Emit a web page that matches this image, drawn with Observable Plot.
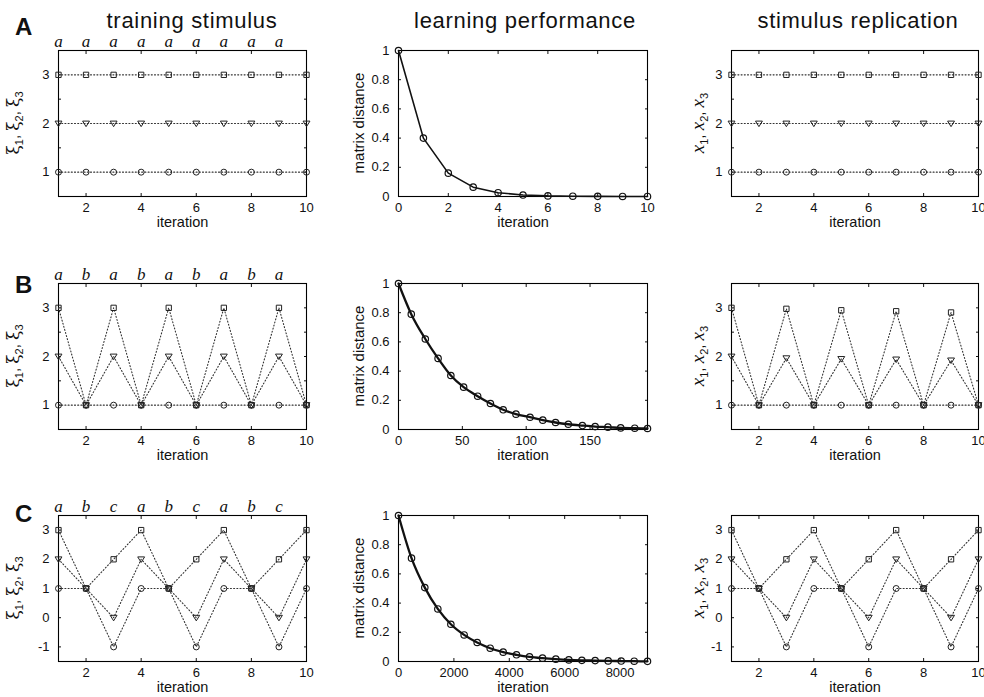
<!DOCTYPE html>
<html><head><meta charset="utf-8">
<script src="https://cdn.jsdelivr.net/npm/d3@7"></script>
<script src="https://cdn.jsdelivr.net/npm/@observablehq/plot@0.6"></script>
<style>
html,body{margin:0;padding:0;background:#fff;}
#page{position:relative;width:984px;height:697px;overflow:hidden;background:#fff;}
</style></head><body><div id="page"></div>
<script>
// ---------------- data ----------------
const iterations = [1,2,3,4,5,6,7,8,9,10];
const letterIters = [1,2,3,4,5,6,7,8,9];
const lettersA = ["a","a","a","a","a","a","a","a","a"];
const lettersB = ["a","b","a","b","a","b","a","b","a"];
const lettersC = ["a","b","c","a","b","c","a","b","c"];

// training stimulus (xi1 circle, xi2 triangle, xi3 square)
const trainA1 = [1,1,1,1,1,1,1,1,1,1];
const trainA2 = [2,2,2,2,2,2,2,2,2,2];
const trainA3 = [3,3,3,3,3,3,3,3,3,3];
const trainB1 = [1,1,1,1,1,1,1,1,1,1];
const trainB2 = [2,1,2,1,2,1,2,1,2,1];
const trainB3 = [3,1,3,1,3,1,3,1,3,1];
const trainC1 = [1,1,-1,1,1,-1,1,1,-1,1];
const trainC2 = [2,1,0,2,1,0,2,1,0,2];
const trainC3 = [3,1,2,3,1,2,3,1,2,3];

// stimulus replication (x1, x2, x3)
const replA1 = [1,1,1,1,1,1,1,1,1,1];
const replA2 = [2,2,2,2,2,2,2,2,2,2];
const replA3 = [3,3,3,3,3,3,3,3,3,3];
const replB1 = [1,1,1,1,1,1,1,1,1,1];
const replB2 = [2,1,1.965,1,1.95,1,1.94,1,1.92,1];
const replB3 = [3,1,2.98,1,2.95,1,2.93,1,2.905,1];
const replC1 = [1,1,-1,1,1,-1,1,1,-1,1];
const replC2 = [2,1,0,2,1,0,2,1,0,2];
const replC3 = [3,1,2,3,1,2,3,1,2,3];

// learning performance (matrix distance)
const perfA_x = [0,1,2,3,4,5,6,7,8,9,10];
const perfA_y = [1,0.40,0.16,0.064,0.026,0.010,0.004,0.002,0.001,0.0005,0.0002];
const perfB_x = [0,10,21,31,41,51,62,72,82,92,103,113,123,133,144,154,164,174,185,195];
const perfB_y = [1,0.79,0.62,0.487,0.37,0.29,0.228,0.178,0.135,0.105,0.084,0.064,0.048,0.036,0.027,0.02,0.016,0.011,0.009,0.007];
const perfC_x = [0,470,950,1420,1890,2370,2840,3310,3780,4260,4730,5200,5680,6150,6620,7100,7570,8040,8510,8990];
const perfC_y = [1,0.708,0.506,0.36,0.255,0.182,0.13,0.091,0.064,0.046,0.032,0.023,0.016,0.011,0.008,0.006,0.004,0.003,0.002,0.001];

// ticks
const stimXLabels = [2,4,6,8,10];
const stimXMarks = [2,4,6,8];
const stimYLabelsAB = [1,2,3];
const stimYMarksAB = [1,1.5,2,2.5,3];
const stimYLabelsC = [-1,0,1,2,3];
const stimYMarksC = [-1,0,1,2,3];
const perfYTicks = [0,0.2,0.4,0.6,0.8,1];
const perfXTicksA = [0,2,4,6,8,10];
const perfXTicksB = [0,50,100,150];
const perfXTicksC = [0,2000,4000,6000,8000];

const colTitles = ["training stimulus","learning performance","stimulus replication"];
const rowLetters = ["A","B","C"];

// ---------------- layout ----------------
const colX = [[58,306],[398,647],[731,978]];
const rowY = [[50,196],[283,429],[515,661]];
const M = {left: 60, right: 12, top: 32, bottom: 40};
const page = document.getElementById("page");
const FONT = "'Liberation Sans', Arial, Helvetica, sans-serif";

const triangleDown = {
  draw(context, size) {
    const r = Math.sqrt(size / Math.PI);
    context.moveTo(-1.15 * r, -0.8 * r);
    context.lineTo(1.15 * r, -0.8 * r);
    context.lineTo(0, 1.05 * r);
    context.closePath();
  }
};

function base(c, r, x, y, marks) {
  const width = colX[c][1] - colX[c][0] + M.left + M.right;
  const height = rowY[r][1] - rowY[r][0] + M.top + M.bottom;
  const svg = Plot.plot({
    width, height,
    marginLeft: M.left, marginRight: M.right, marginTop: M.top, marginBottom: M.bottom,
    x: {...x, label: null}, y: {...y, label: null},
    style: {fontFamily: FONT, fontSize: "13px", color: "#111", background: "transparent", overflow: "visible"},
    marks
  });
  svg.style.position = "absolute";
  svg.style.left = (colX[c][0] - M.left) + "px";
  svg.style.top = (rowY[r][0] - M.top) + "px";
  page.appendChild(svg);
}

function frameAxes(xLabels, xMarks, yLabels, yMarks) {
  const fmt = d => String(d);
  return [
    Plot.axisX(xLabels, {anchor: "bottom", tickSize: 0, tickPadding: 6, tickFormat: fmt, label: null, fontSize: 13}),
    Plot.axisY(yLabels, {anchor: "left", tickSize: 0, tickPadding: 9, tickFormat: fmt, label: null, fontSize: 13}),
    Plot.axisX(xMarks, {anchor: "bottom", tickSize: -3, tickFormat: () => "", label: null}),
    Plot.axisX(xMarks, {anchor: "top", tickSize: -3, tickFormat: () => "", label: null}),
    Plot.axisY(yMarks, {anchor: "left", tickSize: -3, tickFormat: () => "", label: null}),
    Plot.axisY(yMarks, {anchor: "right", tickSize: -3, tickFormat: () => "", label: null}),
    Plot.frame({stroke: "#000", strokeWidth: 1.1}),
    Plot.text(["iteration"], {frameAnchor: "bottom", dy: 30, lineAnchor: "bottom", fontSize: 14.5, fill: "#111"})
  ];
}

function stimCell(c, r, s1, s2, s3, letters, yDomain, yLabels, yMarks) {
  const rows = iterations.flatMap((it, i) => [
    {it, v: s1[i], k: "1"}, {it, v: s2[i], k: "2"}, {it, v: s3[i], k: "3"}
  ]);
  const sym = {"1": "circle", "2": triangleDown, "3": "square"};
  const marks = [
    ...frameAxes(stimXLabels, stimXMarks, yLabels, yMarks),
    Plot.line(rows, {x: "it", y: "v", z: "k", stroke: "#333", strokeWidth: 1.1, strokeDasharray: "1,2.2"}),
    ...["1","2","3"].map(k => Plot.dot(rows.filter(d => d.k === k), {x: "it", y: "v", symbol: sym[k], r: 3, stroke: "#222", strokeWidth: 1, fill: "none"}))
  ];
  if (letters) {
    marks.push(Plot.axisX(letterIters, {anchor: "top", tickSize: 0, tickPadding: 4, tickFormat: d => letters[d - 1], label: null,
      fontFamily: "'Liberation Serif', 'Times New Roman', serif", fontStyle: "italic", fontSize: 17}));
  }
  base(c, r, {domain: [1, 10]}, {domain: yDomain}, marks);
}

function perfCell(c, r, xs, ys, xDomain, xTicks, sw, curve) {
  const rows = xs.map((x, i) => ({x, y: ys[i]}));
  const marks = [
    ...frameAxes(xTicks, xTicks, perfYTicks, perfYTicks),
    Plot.line(rows, {x: "x", y: "y", stroke: "#111", strokeWidth: sw, curve}),
    Plot.dot(rows, {x: "x", y: "y", r: 3.2, stroke: "#111", strokeWidth: 1.2, fill: "none"})
  ];
  base(c, r, {domain: xDomain}, {domain: [0, 1]}, marks);
}

stimCell(0, 0, trainA1, trainA2, trainA3, lettersA, [0.5, 3.5], stimYLabelsAB, stimYMarksAB);
stimCell(0, 1, trainB1, trainB2, trainB3, lettersB, [0.5, 3.5], stimYLabelsAB, stimYMarksAB);
stimCell(0, 2, trainC1, trainC2, trainC3, lettersC, [-1.5, 3.5], stimYLabelsC, stimYMarksC);
perfCell(1, 0, perfA_x, perfA_y, [0, 10], perfXTicksA, 1.6, "linear");
perfCell(1, 1, perfB_x, perfB_y, [0, 195], perfXTicksB, 2.3, "monotone-x");
perfCell(1, 2, perfC_x, perfC_y, [0, 8990], perfXTicksC, 2.3, "monotone-x");
stimCell(2, 0, replA1, replA2, replA3, null, [0.5, 3.5], stimYLabelsAB, stimYMarksAB);
stimCell(2, 1, replB1, replB2, replB3, null, [0.5, 3.5], stimYLabelsAB, stimYMarksAB);
stimCell(2, 2, replC1, replC2, replC3, null, [-1.5, 3.5], stimYLabelsC, stimYMarksC);

// ---------------- page-level text ----------------
const ov = d3.select(page).append("svg")
  .attr("width", 984).attr("height", 697)
  .style("position", "absolute").style("left", "0px").style("top", "0px")
  .style("pointer-events", "none");

const titleX = [192, 525, 858];
colTitles.forEach((t, i) => {
  ov.append("text").attr("x", titleX[i]).attr("y", 28).attr("text-anchor", "middle")
    .attr("font-family", FONT).attr("font-size", 22).attr("letter-spacing", 0.7).attr("fill", "#111").text(t);
});
const letterBase = [35, 293, 522];
rowLetters.forEach((t, i) => {
  ov.append("text").attr("x", 15).attr("y", letterBase[i])
    .attr("font-family", FONT).attr("font-weight", "bold").attr("font-size", 24).attr("fill", "#111").text(t);
});

function subLabel(cx, cy, sym, symFont, symStyle, symSize) {
  const t = ov.append("text").attr("transform", `translate(${cx},${cy}) rotate(-90)`)
    .attr("text-anchor", "middle").attr("fill", "#111").attr("font-family", FONT).attr("font-size", 15);
  [1, 2, 3].forEach(i => {
    t.append("tspan").attr("font-family", symFont).attr("font-style", symStyle).attr("font-size", symSize).text(sym);
    t.append("tspan").attr("dy", 4).attr("font-size", 11).text(String(i));
    t.append("tspan").attr("dy", -4).text(i < 3 ? ", " : "");
  });
}
rowY.forEach(([y0, y1]) => {
  const cy = (y0 + y1) / 2;
  subLabel(19, cy, "ξ", "'DejaVu Serif', serif", "normal", 17);
  subLabel(704, cy, "x", "'Liberation Serif', serif", "italic", 19);
  ov.append("text").attr("transform", `translate(364,${cy}) rotate(-90)`).attr("text-anchor", "middle")
    .attr("font-family", FONT).attr("font-size", 15).attr("fill", "#111").text("matrix distance");
});
</script></body></html>
